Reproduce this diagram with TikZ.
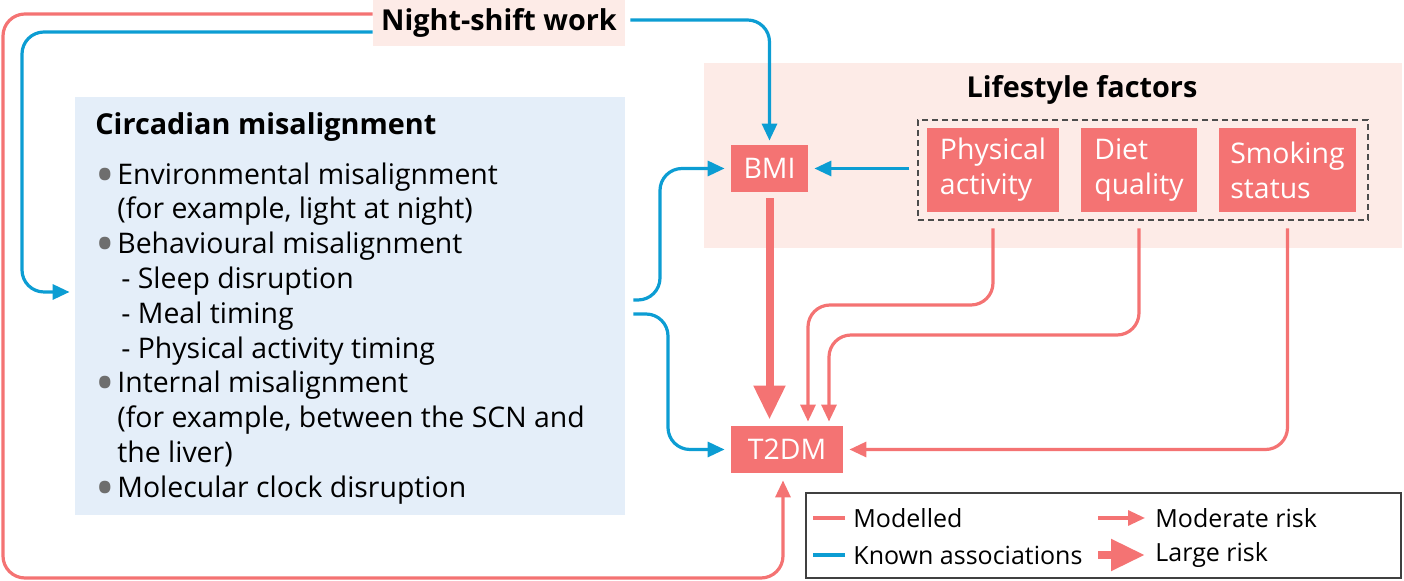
\documentclass[tikz,border=0pt]{standalone}
\usepackage{fontspec}
\setmainfont{Open Sans}
\usepackage{xcolor}
\usepackage{tikz}
\usetikzlibrary{arrows.meta}
\definecolor{riskred}{HTML}{F47373}
\definecolor{assocblue}{HTML}{0C9DD3}
\definecolor{circfill}{HTML}{E4EEF9}
\definecolor{lifefill}{HTML}{FDEBE7}
\definecolor{dotgray}{HTML}{6E6E6E}
\tikzstyle{factor} = [rectangle, fill=riskred, text=white, align=left, inner sep=0pt, minimum height=42pt]
\tikzstyle{outcome} = [rectangle, fill=riskred, text=white, inner sep=0pt, minimum height=23.5pt]
\tikzstyle{known} = [draw=assocblue, line width=1.6pt, rounded corners=11pt]
\tikzstyle{modelled} = [draw=riskred, line width=1.6pt, rounded corners=11pt]
\tikzstyle{arrow} = [-{Triangle[length=8.5pt,width=7.5pt]}]
\tikzstyle{bigarrow} = [line width=4pt, -{Triangle[length=17pt,width=15pt]}]
\tikzstyle{heading} = [font=\fontsize{14.4}{18}\selectfont\bfseries]
\tikzstyle{legendtext} = [anchor=west, inner sep=0pt, font=\fontsize{12.5}{15}\selectfont]
\newcommand{\bulletline}[1]{\makebox[11pt][l]{\raisebox{-4.5pt}{\fontsize{26}{26}\selectfont\textcolor{dotgray}{\textbullet}}}#1}
\newcommand{\contline}[1]{\hspace*{11pt}#1}
\newcommand{\subline}[1]{\hspace*{13pt}- #1}

\begin{document}
\begin{tikzpicture}[x=0.5pt, y=-0.5pt, font=\fontsize{14.2}{17.4}\selectfont]
        \useasboundingbox (0,0) rectangle (1404,581);
        % background panels
        \node (circ) [fill=circfill, minimum width=275pt, minimum height=209pt, inner sep=0pt] at (350,306) {};
        \node (life) [fill=lifefill, minimum width=349pt, minimum height=92.5pt, inner sep=0pt] at (1053,155.5) {};
        \node (night) [heading, fill=lifefill, minimum width=126pt, minimum height=23pt, inner sep=0pt] at (499,23) {Night-shift work};

        \node (circtext) [anchor=north west, align=left, inner sep=0pt] at (95,112) {%
            {\fontsize{14.4}{18}\selectfont\bfseries Circadian misalignment}\\[7.5pt]
            \bulletline{Environmental misalignment}\\
            \contline{(for example, light at night)}\\
            \bulletline{Behavioural misalignment}\\
            \subline{Sleep disruption}\\
            \subline{Meal timing}\\
            \subline{Physical activity timing}\\
            \bulletline{Internal misalignment}\\
            \contline{(for example, between the SCN and}\\
            \contline{the liver)}\\
            \bulletline{Molecular clock disruption}};

        \node (lifetitle) [heading] at (1082,90) {Lifestyle factors};
        \node (group) [draw=black!70, line width=0.6pt, dash pattern=on 3pt off 2pt, minimum width=225pt, minimum height=50pt, inner sep=0pt] at (1143,170) {};
        \node (phys) [factor, minimum width=66pt] at (993,170) {Physical\\activity};
        \node (diet) [factor, minimum width=58pt] at (1139,170) {Diet\\quality};
        \node (smoke) [factor, minimum width=68.5pt] at (1287.5,170) {Smoking\\status};
        \node (bmi) [outcome, minimum width=38.5pt] at (769.5,168.5) {BMI};
        \node (t2dm) [outcome, minimum width=56pt] at (787,449.5) {T2DM};

        % night-shift work
        \draw [modelled, arrow] ([yshift=4.5pt]night.west) -- (3,14) -- (3,578) -- (783,578) -- ([xshift=-2pt,yshift=-3.5pt]t2dm.south);
        \draw [known, arrow] ([yshift=-4.5pt]night.west) -- (22,32) -- (22,292) -- ([shift={(-5,-14)}]circ.west);
        \draw [known, arrow] ([shift={(5,-3)}]night.east) -- (bmi.north |- 0,20) -- ([yshift=2pt]bmi.north);

        % circadian misalignment
        \draw [known, arrow] ([shift={(8,-6)}]circ.east) -- (660,300) -- (660,168.5) -- ([xshift=-3pt]bmi.west);
        \draw [known, arrow] ([shift={(8,8)}]circ.east) -- (668,314) -- (668,449.5) -- ([xshift=-3pt]t2dm.west);

        % lifestyle factors
        \draw [known, arrow, shorten <=4pt, shorten >=3pt] (group.west |- bmi.east) -- (bmi.east);
        \draw [modelled, bigarrow, shorten <=3pt, shorten >=3pt] (bmi.south) -- (bmi.south |- t2dm.north);
        \draw [modelled, arrow, shorten <=8pt] (phys.south) -- (993,305) -- (808,305) -- ([shift={(21,-4)}]t2dm.north);
        \draw [modelled, arrow, shorten <=8pt] (diet.south) -- (1139,335) -- (829,335) -- ([shift={(42,-4)}]t2dm.north);
        \draw [modelled, arrow, shorten <=8pt] (smoke.south) -- (1287.5,449.5) -- ([xshift=3pt]t2dm.east);

        % legend
        \node (legend) [draw=black!75, line width=1pt, minimum width=297.5pt, minimum height=42.5pt, inner sep=0pt] at (1103.5,535.5) {};
        \node (legmod) [legendtext] at (853,518) {Modelled};
        \node (legknown) [legendtext] at (853,555) {Known associations};
        \node (legmoderate) [legendtext] at (1155,518) {Moderate risk};
        \node (leglarge) [legendtext] at (1155,555) {Large risk};
        \draw [modelled] ([xshift=-4pt]legmod.west) -- ++(-16pt,0);
        \draw [known] ([xshift=-4pt]legknown.west) -- ++(-16pt,0);
        \draw [modelled, arrow] ([xshift=-28.5pt]legmoderate.west) -- ([xshift=-5pt]legmoderate.west);
        \draw [modelled, bigarrow] ([xshift=-28.5pt]leglarge.west) -- ([xshift=-5pt]leglarge.west);
    \end{tikzpicture}
\end{document}
